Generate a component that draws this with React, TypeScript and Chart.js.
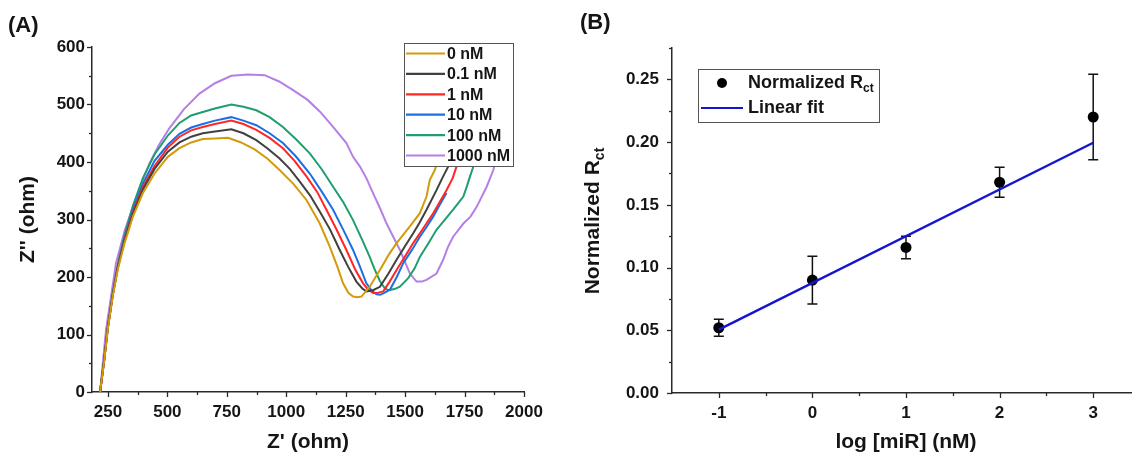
import React, { useEffect, useRef } from 'react';
import { Chart, registerables } from 'chart.js';

Chart.register(...registerables);

const FAMILY = "'Liberation Sans', Arial, sans-serif";
const AXIS = '#2a2a2a';
const TEXT = '#151515';

// ---------- Panel A: Nyquist plots ----------
const seriesLabels = ['0 nM', '0.1 nM', '1 nM', '10 nM', '100 nM', '1000 nM'];
const seriesColors = ['#d39b0a', '#404040', '#ff2626', '#1a6fe6', '#1f9e6e', '#b57fe6'];

const nm0 = [[217,0],[235,56],[249,108],[270,166],[291,212],[320,259],[355,305],[397,346],[446,380],[502,409],[551,424],[600,434],[649,440],[700,441],[755,442],[810,434],[867,422],[920,406],[972,386],[1030,362],[1085,334],[1141,293],[1183,253],[1215,218],[1239,189],[1262,172],[1281,166],[1300,165],[1316,166],[1351,183],[1394,212],[1430,238],[1464,259],[1520,288],[1562,311],[1590,340],[1604,369],[1625,386],[1650,420]];
const nm01 = [[217,0],[235,58],[249,110],[270,168],[291,215],[320,263],[355,310],[397,352],[446,388],[502,418],[551,434],[600,444],[649,450],[700,453],[769,457],[820,450],[874,438],[920,424],[972,406],[1015,388],[1057,366],[1100,342],[1141,314],[1185,282],[1225,247],[1260,218],[1295,192],[1320,180],[1337,175],[1365,177],[1394,183],[1430,206],[1464,230],[1500,254],[1534,276],[1560,294],[1590,317],[1632,351],[1660,375],[1681,392],[1700,420]];
const nm1 = [[217,0],[235,58],[249,110],[270,168],[291,216],[320,265],[355,313],[397,356],[446,393],[502,425],[551,444],[600,455],[649,461],[700,466],[769,472],[820,466],[874,456],[930,442],[986,424],[1035,402],[1085,375],[1130,348],[1169,317],[1210,284],[1253,247],[1290,213],[1323,189],[1345,178],[1366,172],[1380,172],[1408,175],[1435,192],[1464,212],[1500,236],[1534,259],[1575,284],[1618,311],[1645,330],[1674,351],[1700,372],[1716,392],[1735,420]];
const nm10 = [[217,0],[235,58],[249,110],[270,169],[291,218],[320,268],[355,317],[397,362],[446,402],[502,430],[551,449],[600,460],[649,466],[700,472],[769,478],[820,472],[874,464],[930,450],[986,433],[1040,410],[1099,380],[1150,348],[1197,317],[1240,282],[1281,247],[1310,218],[1337,189],[1360,176],[1380,170],[1395,169],[1410,172],[1436,178],[1465,200],[1492,224],[1530,248],[1562,270],[1590,287],[1618,305],[1645,325],[1674,346]];
const nm100 = [[217,0],[235,59],[249,112],[270,171],[291,221],[320,273],[355,324],[397,372],[446,413],[502,446],[551,468],[600,481],[649,487],[700,493],[769,500],[820,496],[874,490],[930,478],[986,461],[1040,440],[1099,415],[1150,387],[1197,357],[1240,330],[1281,299],[1320,264],[1351,235],[1370,215],[1394,193],[1415,180],[1429,177],[1455,179],[1478,183],[1513,198],[1540,215],[1562,235],[1600,260],[1632,282],[1670,301],[1702,317],[1730,332],[1745,340],[1760,358],[1773,375],[1787,392],[1800,420]];
const nm1000 = [[217,0],[242,108],[263,166],[284,224],[320,280],[355,322],[390,362],[425,398],[465,430],[509,459],[570,492],[635,519],[700,537],[769,550],[840,552],[909,551],[970,540],[1029,525],[1090,508],[1141,488],[1197,461],[1253,433],[1281,409],[1310,392],[1337,372],[1365,346],[1394,320],[1422,293],[1450,270],[1478,247],[1500,226],[1520,206],[1548,192],[1570,192],[1590,195],[1632,206],[1660,230],[1680,252],[1702,270],[1745,293],[1775,305],[1801,322],[1843,357],[1871,386],[1890,420]];
const seriesData = [nm0, nm01, nm1, nm10, nm100, nm1000];

const xMajorA = [250, 500, 750, 1000, 1250, 1500, 1750, 2000];
const xMinorA = [375, 625, 875, 1125, 1375, 1625, 1875];
const yMajorA = [0, 100, 200, 300, 400, 500, 600];
const yMinorA = [50, 150, 250, 350, 450, 550];

// ---------- Panel B: calibration ----------
const logConc = [-1, 0, 1, 2, 3];
const rctMean = [0.052, 0.090, 0.116, 0.168, 0.220];
const rctErr = [0.0067, 0.019, 0.009, 0.012, 0.034];
const fitX = [-1, 3];
const fitY = [0.0505, 0.1995];
const xMajorB = [-1, 0, 1, 2, 3];
const xMinorB = [-0.5, 0.5, 1.5, 2.5];
const yMajorB = [0, 0.05, 0.1, 0.15, 0.2, 0.25];
const yMinorB = [0.025, 0.075, 0.125, 0.175, 0.225, 0.275];

const tickFont = { family: FAMILY, size: 17, weight: 'bold' as const };
const titleFont = { family: FAMILY, size: 21, weight: 'bold' as const };

function ticksPlugin(xMaj: number[], xMin: number[], yMaj: number[], yMin: number[]) {
  return {
    id: 'customTicks',
    afterDraw(chart: any) {
      const { ctx, chartArea: ca, scales } = chart;
      const sx = scales.x, sy = scales.y;
      ctx.save();
      ctx.strokeStyle = AXIS;
      ctx.lineWidth = 1.3;
      const xt = (vals: number[], len: number) => vals.forEach((v) => {
        const p = Math.round(sx.getPixelForValue(v)) + 0.5;
        if (p < ca.left - 1 || p > ca.right + 1) return;
        ctx.beginPath(); ctx.moveTo(p, ca.bottom); ctx.lineTo(p, ca.bottom + len); ctx.stroke();
      });
      const yt = (vals: number[], len: number) => vals.forEach((v) => {
        const p = Math.round(sy.getPixelForValue(v)) + 0.5;
        ctx.beginPath(); ctx.moveTo(ca.left, p); ctx.lineTo(ca.left - len, p); ctx.stroke();
      });
      xt(xMaj, 5); xt(xMin, 3); yt(yMaj, 5); yt(yMin, 3);
      ctx.restore();
    },
  };
}

function panelLabel(text: string, x: number, y: number) {
  return {
    id: 'panelLabel',
    afterDraw(chart: any) {
      const ctx = chart.ctx;
      ctx.save();
      ctx.font = `bold 22px ${FAMILY}`;
      ctx.fillStyle = TEXT;
      ctx.textAlign = 'left';
      ctx.textBaseline = 'middle';
      ctx.fillText(text, x, y);
      ctx.restore();
    },
  };
}

const legendA = {
  id: 'legendA',
  afterDatasetsDraw(chart: any) {
    const ctx = chart.ctx;
    ctx.save();
    ctx.fillStyle = '#ffffff';
    ctx.fillRect(404, 43, 109, 123);
    ctx.strokeStyle = '#555';
    ctx.lineWidth = 1;
    ctx.strokeRect(404.5, 43.5, 109, 123);
    ctx.font = `bold 16px ${FAMILY}`;
    ctx.textBaseline = 'middle';
    ctx.textAlign = 'left';
    chart.data.datasets.forEach((ds: any, i: number) => {
      const y = 53.5 + i * 20.4;
      ctx.strokeStyle = ds.borderColor;
      ctx.lineWidth = 2.2;
      ctx.beginPath(); ctx.moveTo(406, y); ctx.lineTo(445, y); ctx.stroke();
      ctx.fillStyle = TEXT;
      ctx.fillText(ds.label, 447, y + 1);
    });
    ctx.restore();
  },
};

const errorBars = {
  id: 'errorBars',
  beforeDatasetsDraw(chart: any) {
    const { ctx, scales } = chart;
    ctx.save();
    ctx.strokeStyle = '#111';
    ctx.lineWidth = 1.5;
    logConc.forEach((xv, i) => {
      const px = scales.x.getPixelForValue(xv);
      const top = scales.y.getPixelForValue(rctMean[i] + rctErr[i]);
      const bot = scales.y.getPixelForValue(rctMean[i] - rctErr[i]);
      ctx.beginPath();
      ctx.moveTo(px, top); ctx.lineTo(px, bot);
      ctx.moveTo(px - 5, top); ctx.lineTo(px + 5, top);
      ctx.moveTo(px - 5, bot); ctx.lineTo(px + 5, bot);
      ctx.stroke();
    });
    ctx.restore();
  },
};

function drawSubText(ctx: CanvasRenderingContext2D, main: string, sub: string, x: number, y: number, mainSize: number, subSize: number, subDrop: number) {
  ctx.font = `bold ${mainSize}px ${FAMILY}`;
  ctx.fillText(main, x, y);
  const w = ctx.measureText(main).width;
  ctx.font = `bold ${subSize}px ${FAMILY}`;
  ctx.fillText(sub, x + w, y + subDrop);
}

const legendAndTitleB = {
  id: 'legendB',
  afterDatasetsDraw(chart: any) {
    const ctx = chart.ctx;
    ctx.save();
    ctx.fillStyle = '#ffffff';
    ctx.fillRect(138, 69, 181, 53);
    ctx.strokeStyle = '#555';
    ctx.lineWidth = 1;
    ctx.strokeRect(138.5, 69.5, 181, 53);
    const pts = chart.data.datasets[1];
    const fit = chart.data.datasets[0];
    ctx.fillStyle = pts.backgroundColor;
    ctx.beginPath(); ctx.arc(162, 83, 5, 0, Math.PI * 2); ctx.fill();
    ctx.strokeStyle = fit.borderColor;
    ctx.lineWidth = 2.2;
    ctx.beginPath(); ctx.moveTo(141, 108); ctx.lineTo(183, 108); ctx.stroke();
    ctx.fillStyle = TEXT;
    ctx.textAlign = 'left';
    ctx.textBaseline = 'middle';
    drawSubText(ctx, 'Normalized R', 'ct', 188, 83, 18, 12, 6);
    ctx.font = `bold 18px ${FAMILY}`;
    ctx.fillText(fit.label, 188, 108);
    ctx.translate(33, 221);
    ctx.rotate(-Math.PI / 2);
    ctx.font = `bold 21px ${FAMILY}`;
    const w1 = ctx.measureText('Normalized R').width;
    ctx.font = `bold 14px ${FAMILY}`;
    const w2 = ctx.measureText('ct').width;
    drawSubText(ctx, 'Normalized R', 'ct', -(w1 + w2) / 2, 0, 21, 14, 7);
    ctx.restore();
  },
};

function axisCommon(extra: any) {
  return {
    type: 'linear',
    grid: { display: false, drawTicks: false, drawOnChartArea: false },
    border: { display: true, color: AXIS, width: 1.5 },
    ...extra,
  };
}

export default function App() {
  const refA = useRef<HTMLCanvasElement>(null);
  const refB = useRef<HTMLCanvasElement>(null);

  useEffect(() => {
    const chartA = new Chart(refA.current as HTMLCanvasElement, {
      type: 'scatter',
      data: {
        datasets: seriesData.map((d, i) => ({
          label: seriesLabels[i],
          data: d.map(([x, y]) => ({ x, y })),
          showLine: true,
          borderColor: seriesColors[i],
          backgroundColor: seriesColors[i],
          borderWidth: 2,
          pointRadius: 0,
          tension: 0,
          fill: false,
        })),
      },
      options: {
        animation: false,
        responsive: false,
        events: [],
        layout: { padding: { left: 0, top: 47, right: 36, bottom: 0 } },
        plugins: { legend: { display: false }, tooltip: { enabled: false } },
        scales: {
          x: axisCommon({
            min: 183,
            max: 2000,
            afterBuildTicks: (s: any) => { s.ticks = xMajorA.map((v) => ({ value: v })); },
            afterFit: (s: any) => { s.height = 63; },
            ticks: { color: TEXT, font: tickFont, padding: 10, maxRotation: 0, autoSkip: false, callback: (v: any) => String(v) },
            title: { display: true, text: "Z' (ohm)", color: TEXT, font: titleFont, padding: { top: 0, bottom: 0 } },
          }),
          y: axisCommon({
            min: 0,
            max: 600,
            afterBuildTicks: (s: any) => { s.ticks = yMajorA.map((v) => ({ value: v })); },
            afterFit: (s: any) => { s.width = 92; },
            ticks: { color: TEXT, font: tickFont, padding: 7, autoSkip: false, callback: (v: any) => String(v) },
            title: { display: true, text: "Z'' (ohm)", color: TEXT, font: titleFont, padding: { top: 16, bottom: 0 } },
          }),
        },
      } as any,
      plugins: [ticksPlugin(xMajorA, xMinorA, yMajorA, yMinorA), legendA, panelLabel('(A)', 8, 26)],
    });

    const chartB = new Chart(refB.current as HTMLCanvasElement, {
      type: 'scatter',
      data: {
        datasets: [
          {
            label: 'Linear fit',
            data: fitX.map((x, i) => ({ x, y: fitY[i] })),
            showLine: true,
            borderColor: '#1414d2',
            backgroundColor: '#1414d2',
            borderWidth: 2.4,
            pointRadius: 0,
            order: 0,
          },
          {
            label: 'Normalized Rct',
            data: logConc.map((x, i) => ({ x, y: rctMean[i] })),
            showLine: false,
            borderColor: '#000',
            backgroundColor: '#000',
            pointRadius: 5.5,
            pointBorderWidth: 0,
            order: 1,
          },
        ],
      },
      options: {
        animation: false,
        responsive: false,
        events: [],
        layout: { padding: { left: 0, top: 48, right: 20, bottom: 0 } },
        plugins: { legend: { display: false }, tooltip: { enabled: false } },
        scales: {
          x: axisCommon({
            min: -1.5,
            max: 3.5,
            afterBuildTicks: (s: any) => { s.ticks = xMajorB.map((v) => ({ value: v })); },
            afterFit: (s: any) => { s.height = 62; },
            ticks: { color: TEXT, font: tickFont, padding: 10, maxRotation: 0, autoSkip: false, callback: (v: any) => String(v) },
            title: { display: true, text: 'log [miR] (nM)', color: TEXT, font: titleFont, padding: { top: 0, bottom: 0 } },
          }),
          y: axisCommon({
            min: 0,
            max: 0.275,
            afterBuildTicks: (s: any) => { s.ticks = yMajorB.map((v) => ({ value: v })); },
            afterFit: (s: any) => { s.width = 112; },
            ticks: { color: TEXT, font: tickFont, padding: 13, autoSkip: false, callback: (v: any) => Number(v).toFixed(2) },
            title: { display: false },
          }),
        },
      } as any,
      plugins: [ticksPlugin(xMajorB, xMinorB, yMajorB, yMinorB), errorBars, legendAndTitleB, panelLabel('(B)', 20, 23)],
    });

    return () => {
      chartA.destroy();
      chartB.destroy();
    };
  }, []);

  return (
    <div style={{ position: 'fixed', left: 0, top: 0, width: 1132, height: 455, overflow: 'hidden', background: '#ffffff' }}>
      <div style={{ position: 'absolute', left: 0, top: 0, width: 560, height: 455 }}>
        <canvas ref={refA} width={560} height={455} style={{ display: 'block' }} />
      </div>
      <div style={{ position: 'absolute', left: 560, top: 0, width: 600, height: 455 }}>
        <canvas ref={refB} width={600} height={455} style={{ display: 'block' }} />
      </div>
    </div>
  );
}
